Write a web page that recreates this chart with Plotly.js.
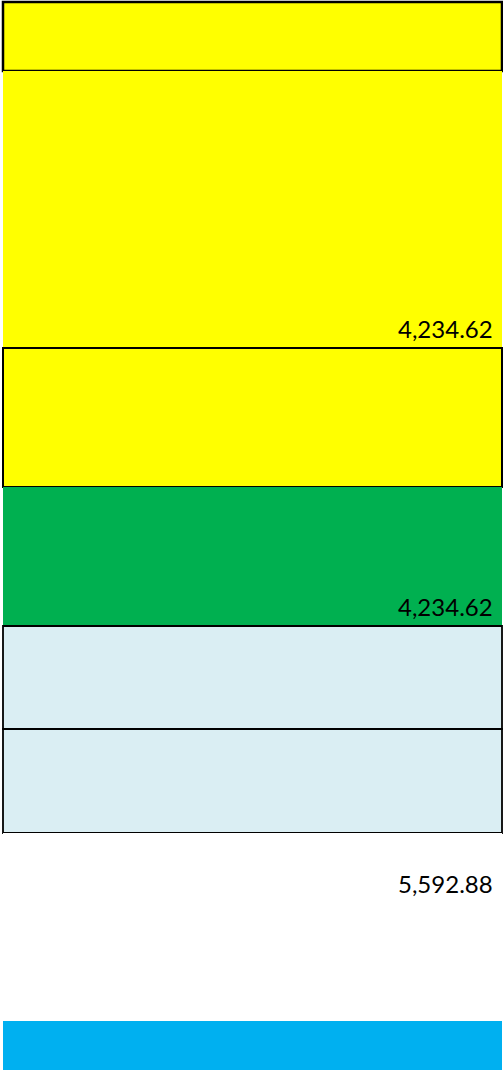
<!DOCTYPE html>
<html>
<head>
<meta charset="utf-8">
<script src="https://cdn.plot.ly/plotly-3.0.1.min.js"></script>
<style>html,body{margin:0;padding:0;background:#fff;}#chart{width:503px;height:1070px;}</style>
</head>
<body>
<div id="chart"></div>
<script>
// ---- data ----
const rowNames = ['R1', 'R2', 'R3', 'R4', 'R5', 'R6', 'R7', 'R8', 'R9'];
const rowHeights = [69, 277, 139, 139, 103, 104, 70, 118, 49];
const rowValues = [null, 4234.62, null, 4234.62, null, null, 5592.88, null, null];

// ---- styles ----
const rowFills = ['#FFFF00', '#FFFF00', '#FFFF00', '#00B050', '#DAEEF3', '#DAEEF3', '#FFFFFF', '#FFFFFF', '#00B0F0'];
const rowBorders = [2.5, 0, 2, 0, 1.8, 1.8, 0, 0, 0];
const topOffset = 2;

const bases = [];
let acc = topOffset;
rowHeights.forEach(h => { bases.push(acc); acc += h; });
const ends = bases.map((b, i) => b + rowHeights[i]);

const fmt = v => v.toLocaleString('en-US', {minimumFractionDigits: 2, maximumFractionDigits: 2});

const bars = {
  type: 'bar',
  x: rowNames.map(() => 0),
  y: rowHeights,
  base: bases,
  width: 1,
  hovertext: rowNames,
  marker: {
    color: rowFills,
    line: {color: '#000000', width: rowBorders}
  },
  showlegend: false,
  hoverinfo: 'none'
};

const annotations = [];
rowValues.forEach((v, i) => {
  if (v === null) return;
  annotations.push({
    x: 0.5, xref: 'x', y: ends[i], yref: 'y',
    text: fmt(v), showarrow: false,
    xanchor: 'right', yanchor: 'bottom',
    xshift: -7, yshift: 3,
    font: {family: 'Lato', size: 24, color: '#000'}
  });
});

const pxPerUnit = 499;
const layout = {
  width: 503, height: 1070,
  margin: {l: 0, r: 0, t: 0, b: 0, pad: 0},
  paper_bgcolor: '#fff', plot_bgcolor: '#fff',
  xaxis: {range: [-0.5 - 3 / pxPerUnit, 0.5 + 1 / pxPerUnit], visible: false, fixedrange: true},
  yaxis: {range: [1070, 0], visible: false, fixedrange: true},
  annotations: annotations,
  bargap: 0
};

Plotly.newPlot('chart', [bars], layout, {displayModeBar: false, staticPlot: true});
</script>
</body>
</html>
